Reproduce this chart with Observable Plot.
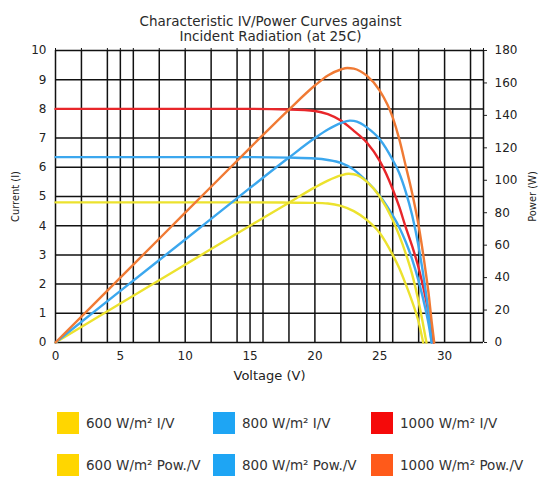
<!DOCTYPE html>
<html>
<head>
<meta charset="utf-8">
<script src="https://cdn.jsdelivr.net/npm/d3@7"></script>
<script src="https://cdn.jsdelivr.net/npm/@observablehq/plot@0.6"></script>
<style>
  html, body { margin: 0; padding: 0; background: #fff; }
  body { width: 539px; height: 478px; overflow: hidden; font-family: "DejaVu Sans", sans-serif; color: #222; }
  #title { height: 44px; box-sizing: border-box; padding-top: 14px; text-align: center; font-size: 13.5px; line-height: 15px; color: #2a2a2a; padding-left: 2px; }
  #chart svg { display: block; }
  #legend { position: relative; height: 86px; }
  .item { position: absolute; display: flex; align-items: center; font-size: 13.5px; color: #333; white-space: nowrap; }
  .sw { width: 22px; height: 22px; margin-right: 7px; }
  g[aria-label="y-axis label"] text { font-size: 11px; font-family: "DejaVu Sans Condensed", "DejaVu Sans", sans-serif; }
  g[aria-label="x-axis label"] text { font-size: 13px; }
</style>
</head>
<body>
<div id="title">Characteristic IV/Power Curves against<br>Incident Radiation (at 25C)</div>
<div id="chart"></div>
<div id="legend"></div>
<script>
// ---- data ----
// 1000 W/m² I/V (volts, amps)
const iv1000V = [0, 5, 10, 15, 18, 20, 21, 22, 23, 24, 25, 26, 26.5, 27, 27.5, 28, 28.5, 28.8, 29, 29.15];
const iv1000I = [8.0, 8.0, 8.0, 8.0, 7.98, 7.93, 7.82, 7.6, 7.25, 6.85, 6.22, 5.25, 4.65, 3.95, 3.3, 2.55, 1.6, 0.95, 0.45, 0];
// 1000 W/m² Pow./V (volts, watts)
const pw1000V = [0, 5, 10, 15, 18, 20, 21, 22, 22.5, 23, 23.5, 24, 25, 26, 26.5, 27, 27.5, 28, 28.5, 28.8, 29, 29.2];
const pw1000P = [0, 40, 80, 120, 143.6, 158.4, 164.6, 168.3, 169.2, 168.8, 167.2, 164.5, 155.3, 138.8, 125.5, 109, 92, 72, 46, 28, 13, 0];
// 800 W/m² I/V
const iv800V = [0, 5, 10, 15, 18, 20, 21, 22, 23, 24, 25, 26, 26.5, 27, 27.5, 28, 28.5, 28.8, 29.0];
const iv800I = [6.35, 6.35, 6.35, 6.35, 6.33, 6.3, 6.25, 6.15, 5.92, 5.52, 5.03, 4.35, 3.95, 3.45, 2.85, 2.1, 1.2, 0.55, 0];
// 800 W/m² Pow./V
const pw800V = [0, 5, 10, 15, 18, 20, 21, 22, 22.7, 23, 23.5, 24, 25, 26, 26.5, 27, 27.5, 28, 28.5, 28.8, 29.0];
const pw800P = [0, 31.8, 63.5, 95.3, 114, 126, 131.3, 135.3, 136.8, 136.6, 135.2, 132.6, 125.3, 112.5, 104.5, 93, 78.5, 59, 34, 16, 0];
// 600 W/m² I/V
const iv600V = [0, 5, 10, 15, 18, 20, 21, 22, 23, 24, 25, 26, 26.5, 27, 27.5, 28, 28.35];
const iv600I = [4.8, 4.8, 4.8, 4.8, 4.79, 4.78, 4.76, 4.68, 4.5, 4.2, 3.75, 3.0, 2.55, 2.0, 1.4, 0.7, 0];
// 600 W/m² Pow./V
const pw600V = [0, 5, 10, 15, 18, 20, 21, 22, 22.6, 23, 23.5, 24, 25, 26, 26.5, 27, 27.5, 28, 28.3, 28.6];
const pw600P = [0, 24, 48, 72, 86.2, 95.6, 99.8, 103, 104, 103.7, 102.2, 99.2, 90, 75.5, 66, 55, 42, 25, 13, 0];

const xTicks = [0, 5, 10, 15, 20, 25, 30];
const xGrid = [0, 2, 4, 5, 6, 8, 10, 12, 14, 15, 16, 18, 20, 22, 24, 25, 26, 28, 30, 32, 33];
const yTicks = [0, 1, 2, 3, 4, 5, 6, 7, 8, 9, 10];
const powerTicks = [0, 20, 40, 60, 80, 100, 120, 140, 160, 180];
const powerMax = 180, currentMax = 10;

const seriesNames = ["600 W/m² I/V", "800 W/m² I/V", "1000 W/m² I/V", "600 W/m² Pow./V", "800 W/m² Pow./V", "1000 W/m² Pow./V"];
const lineColors = ["#ece22e", "#3ba7ee", "#e8262a", "#ece22e", "#3ba7ee", "#f07a34"];
const swatchColors = ["#ffd600", "#1ea5f4", "#f50a0a", "#ffd600", "#1ea5f4", "#ff5a1a"];

// ---- build tables ----
const k = currentMax / powerMax; // right axis: watts onto the current scale
const zipIV = (vs, is, s) => vs.map((v, i) => ({v, y: is[i], s}));
const zipPW = (vs, ps, s) => vs.map((v, i) => ({v, y: ps[i] * k, s}));
const series = [
  zipIV(iv600V, iv600I, seriesNames[0]),
  zipIV(iv800V, iv800I, seriesNames[1]),
  zipIV(iv1000V, iv1000I, seriesNames[2]),
  zipPW(pw600V, pw600P, seriesNames[3]),
  zipPW(pw800V, pw800P, seriesNames[4]),
  zipPW(pw1000V, pw1000P, seriesNames[5])
];
const allData = series.flat();

const chart = Plot.plot({
  width: 539,
  height: 348,
  marginTop: 6,
  marginBottom: 50,
  marginLeft: 55,
  marginRight: 56,
  style: { fontFamily: '"DejaVu Sans", sans-serif', fontSize: "12px", color: "#222" },
  x: { domain: [0, 33] },
  y: { domain: [0, 10] },
  color: { domain: seriesNames, range: lineColors },
  marks: [
    Plot.ruleY(yTicks, { stroke: "#111", strokeWidth: 1.5 }),
    Plot.ruleX(xGrid, { stroke: "#111", strokeWidth: 1.5 }),
    Plot.axisX({ anchor: "top", ticks: xGrid, tickSize: 3, tickFormat: () => "", label: null, stroke: "#111" }),
    Plot.line(allData, { x: "v", y: "y", z: "s", stroke: "s", strokeWidth: 2.4, curve: "monotone-x" }),
    Plot.axisX({ ticks: xTicks, tickSize: 0, tickPadding: 9, label: "Voltage (V)", labelAnchor: "center", labelArrow: false, labelOffset: 37 }),
    Plot.axisY({ anchor: "left", ticks: yTicks, tickSize: 0, tickPadding: 9, label: "Current (I)", labelAnchor: "center", labelArrow: false, labelOffset: 44 }),
    Plot.axisY({ anchor: "right", ticks: powerTicks.map(p => p * k), tickFormat: d => String(Math.round(d / k)), tickSize: 3, tickPadding: 8, label: "Power (W)", labelAnchor: "center", labelArrow: false, labelOffset: 52 })
  ]
});
document.getElementById("chart").appendChild(chart);

// ---- legend ----
const legend = document.getElementById("legend");
const colX = [57, 213, 371];
const rowY = [31, 73];
seriesNames.forEach((name, i) => {
  const el = document.createElement("div");
  el.className = "item";
  el.style.left = colX[i % 3] + "px";
  el.style.top = (rowY[Math.floor(i / 3)] - 11) + "px";
  const sw = document.createElement("div");
  sw.className = "sw";
  sw.style.background = swatchColors[i];
  const t = document.createElement("span");
  t.textContent = name;
  el.appendChild(sw);
  el.appendChild(t);
  legend.appendChild(el);
});
</script>
</body>
</html>
